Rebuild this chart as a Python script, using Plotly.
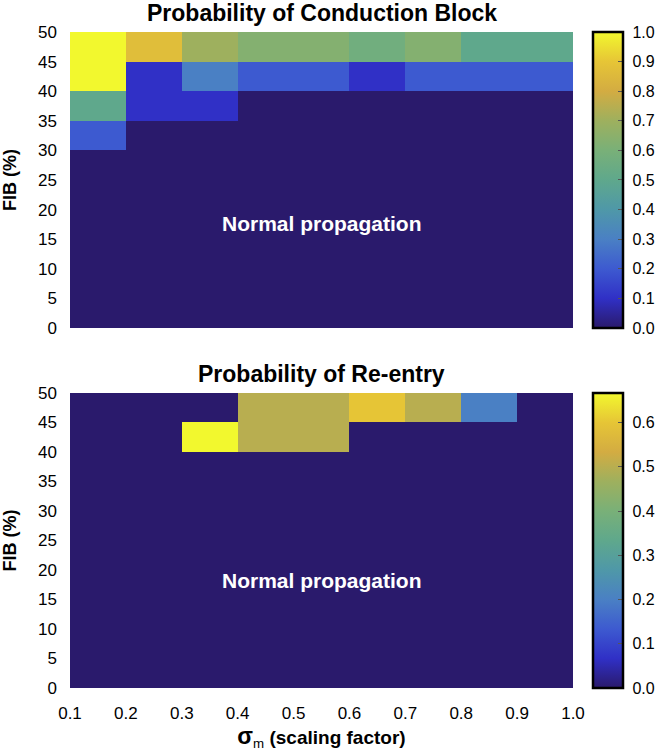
import plotly.graph_objects as go
from plotly.subplots import make_subplots

x_edges = [0.1, 0.2, 0.3, 0.4, 0.5, 0.6, 0.7, 0.8, 0.9, 1.0]
y_edges = [0, 5, 10, 15, 20, 25, 30, 35, 40, 45, 50]
x_ticks = [0.1, 0.2, 0.3, 0.4, 0.5, 0.6, 0.7, 0.8, 0.9, 1.0]
x_tick_labels = ["0.1", "0.2", "0.3", "0.4", "0.5", "0.6", "0.7", "0.8", "0.9", "1.0"]
y_ticks = [0, 5, 10, 15, 20, 25, 30, 35, 40, 45, 50]

# rows from FIB 0-5 (bottom) to 45-50 (top); columns sigma 0.1-0.2 ... 0.9-1.0
conduction_block = [
    [0, 0, 0, 0, 0, 0, 0, 0, 0],
    [0, 0, 0, 0, 0, 0, 0, 0, 0],
    [0, 0, 0, 0, 0, 0, 0, 0, 0],
    [0, 0, 0, 0, 0, 0, 0, 0, 0],
    [0, 0, 0, 0, 0, 0, 0, 0, 0],
    [0, 0, 0, 0, 0, 0, 0, 0, 0],
    [0.2, 0, 0, 0, 0, 0, 0, 0, 0],
    [0.5, 0.1, 0.1, 0, 0, 0, 0, 0, 0],
    [1.0, 0.1, 0.3, 0.2, 0.2, 0.1, 0.2, 0.2, 0.2],
    [1.0, 0.87, 0.7, 0.63, 0.63, 0.57, 0.63, 0.5, 0.5],
]
reentry = [
    [0, 0, 0, 0, 0, 0, 0, 0, 0],
    [0, 0, 0, 0, 0, 0, 0, 0, 0],
    [0, 0, 0, 0, 0, 0, 0, 0, 0],
    [0, 0, 0, 0, 0, 0, 0, 0, 0],
    [0, 0, 0, 0, 0, 0, 0, 0, 0],
    [0, 0, 0, 0, 0, 0, 0, 0, 0],
    [0, 0, 0, 0, 0, 0, 0, 0, 0],
    [0, 0, 0, 0, 0, 0, 0, 0, 0],
    [0, 0, 0.667, 0.5, 0.5, 0, 0, 0, 0],
    [0, 0, 0, 0.5, 0.5, 0.6, 0.5, 0.2, 0],
]

parula = [
    [0.0, "#2a1a6c"],
    [0.1, "#3030c6"],
    [0.2, "#3d5ad0"],
    [0.3, "#4a80c4"],
    [0.4, "#4f98a8"],
    [0.5, "#5fa88c"],
    [0.6, "#79b078"],
    [0.7, "#9eb05e"],
    [0.8, "#d3ac42"],
    [0.9, "#e6c536"],
    [1.0, "#f2f82e"],
]

FONT = "Liberation Sans, Arial, sans-serif"

fig = make_subplots(rows=2, cols=1)

top_dom = [0.5488, 1.0]
bot_dom = [0.0, 0.4497]

def cbar(dom, dtick):
    return dict(
        x=1.04, xanchor="left", xpad=0,
        y=(dom[0] + dom[1]) / 2, yanchor="middle",
        len=dom[1] - dom[0], lenmode="fraction", ypad=0,
        thickness=30, outlinecolor="black", outlinewidth=2.5,
        ticks="inside", ticklen=6, tickcolor="#555555",
        tick0=0, dtick=dtick, tickformat=".1f", tickprefix="\u00a0",
        tickfont=dict(family=FONT, size=16, color="black"),
    )

fig.add_trace(go.Heatmap(
    x=x_edges, y=y_edges, z=conduction_block, colorscale=parula,
    zmin=0, zmax=1.0, colorbar=cbar(top_dom, 0.1), hoverinfo="skip",
), row=1, col=1)
fig.add_trace(go.Heatmap(
    x=x_edges, y=y_edges, z=reentry, colorscale=parula,
    zmin=0, zmax=0.667, colorbar=cbar(bot_dom, 0.1), hoverinfo="skip",
), row=2, col=1)

axis_font = dict(family=FONT, size=17, color="black")
fig.update_xaxes(range=[0.1, 1.0], showgrid=False, zeroline=False, ticks="",
                 tickvals=x_ticks, ticktext=x_tick_labels, tickfont=axis_font,
                 ticklabelstandoff=13, automargin=False)
fig.update_xaxes(showticklabels=False, domain=[0, 1], row=1, col=1)
fig.update_xaxes(domain=[0, 1], row=2, col=1,
                 title=dict(text="<b><span style='font-size:23px'>σ</span></b><sub>m</sub><b> (scaling factor)</b>",
                            font=dict(family=FONT, size=19, color="black"), standoff=4))
fig.update_yaxes(range=[0, 50], showgrid=False, zeroline=False, ticks="",
                 tickvals=y_ticks, tickfont=axis_font, ticklabelstandoff=12, automargin=False,
                 title=dict(text="<b>FIB (%)</b>", font=dict(family=FONT, size=18, color="black"),
                            standoff=16))
fig.update_yaxes(domain=top_dom, row=1, col=1)
fig.update_yaxes(domain=bot_dom, row=2, col=1)

title_font = dict(family=FONT, size=23, color="black")
fig.add_annotation(text="<b>Probability of Conduction Block</b>", xref="paper", yref="paper",
                   x=0.5, y=top_dom[1], yanchor="bottom", yshift=4, showarrow=False, font=title_font)
fig.add_annotation(text="<b>Probability of Re-entry</b>", xref="paper", yref="paper",
                   x=0.5, y=bot_dom[1], yanchor="bottom", yshift=4, showarrow=False, font=title_font)

label_font = dict(family=FONT, size=21, color="white")
fig.add_annotation(text="<b>Normal propagation</b>", xref="x", yref="y", x=0.55, y=17.6,
                   showarrow=False, font=label_font)
fig.add_annotation(text="<b>Normal propagation</b>", xref="x2", yref="y2", x=0.55, y=18.3,
                   showarrow=False, font=label_font)

fig.update_layout(
    width=660, height=752,
    margin=dict(l=70, r=87, t=32, b=64, autoexpand=False),
    paper_bgcolor="white", plot_bgcolor="white",
    font=dict(family=FONT, color="black"),
)

# remove the browser's default 8px body margin so the figure fills the window
fig.write_html("out.html", config={"displayModeBar": False},
               post_script="document.body.style.margin='0';")
